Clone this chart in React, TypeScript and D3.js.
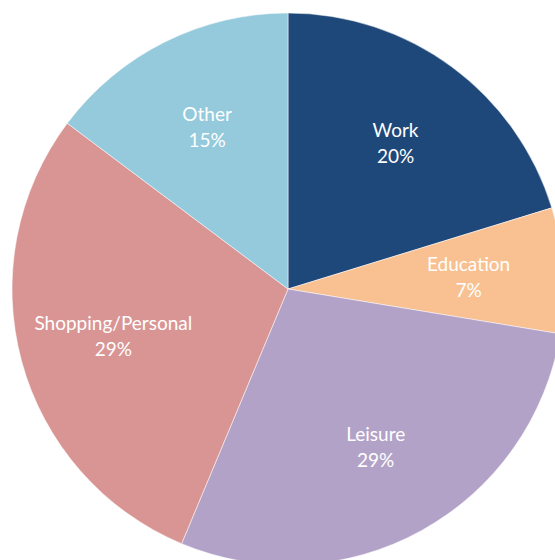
import React, { useRef, useEffect } from 'react'
import * as d3 from 'd3'

const categories = ['Work', 'Education', 'Leisure', 'Shopping/Personal', 'Other']
const shares = [20.25, 7.35, 28.7, 28.95, 14.75]
const colors = ['#1f487a', '#f9c191', '#b3a2c8', '#d99594', '#94cadc']

export default function App() {
  const svgRef = useRef<SVGSVGElement>(null)

  useEffect(() => {
    const svg = d3.select(svgRef.current)
    svg.selectAll('*').remove()

    const width = 555, height = 560
    const cx = 288, cy = 289, radius = 276
    const total = d3.sum(shares)

    const data = categories.map((c, i) => ({ name: c, value: shares[i], color: colors[i] }))

    const pie = d3.pie<any>().sort(null).value(d => d.value)
    const arc = d3.arc<any>().innerRadius(0).outerRadius(radius)
    const labelArc = d3.arc<any>().innerRadius(181).outerRadius(181)

    svg.attr('width', width).attr('height', height)

    const g = svg.append('g').attr('transform', `translate(${cx},${cy})`)

    const arcs = pie(data)

    g.selectAll('path')
      .data(arcs)
      .join('path')
      .attr('d', arc)
      .attr('fill', d => d.data.color)
      .attr('stroke', '#ffffff')
      .attr('stroke-width', 0.5)

    const labels = g.selectAll('g.label')
      .data(arcs)
      .join('g')
      .attr('class', 'label')
      .attr('transform', d => {
        const [x, y] = labelArc.centroid(d)
        return `translate(${x},${y})`
      })

    // two lines: category name, then rounded share
    labels.append('text')
      .attr('y', -6)
      .attr('text-anchor', 'middle')
      .attr('fill', '#ffffff')
      .attr('font-family', 'Lato, sans-serif')
      .attr('font-size', '19px')
      .text(d => d.data.name)

    labels.append('text')
      .attr('y', 20)
      .attr('text-anchor', 'middle')
      .attr('fill', '#ffffff')
      .attr('font-family', 'Lato, sans-serif')
      .attr('font-size', '19px')
      .text(d => `${Math.round((d.data.value / total) * 100)}%`)
  }, [])

  return <svg ref={svgRef} style={{ position: 'absolute', left: 0, top: 0 }} />
}
